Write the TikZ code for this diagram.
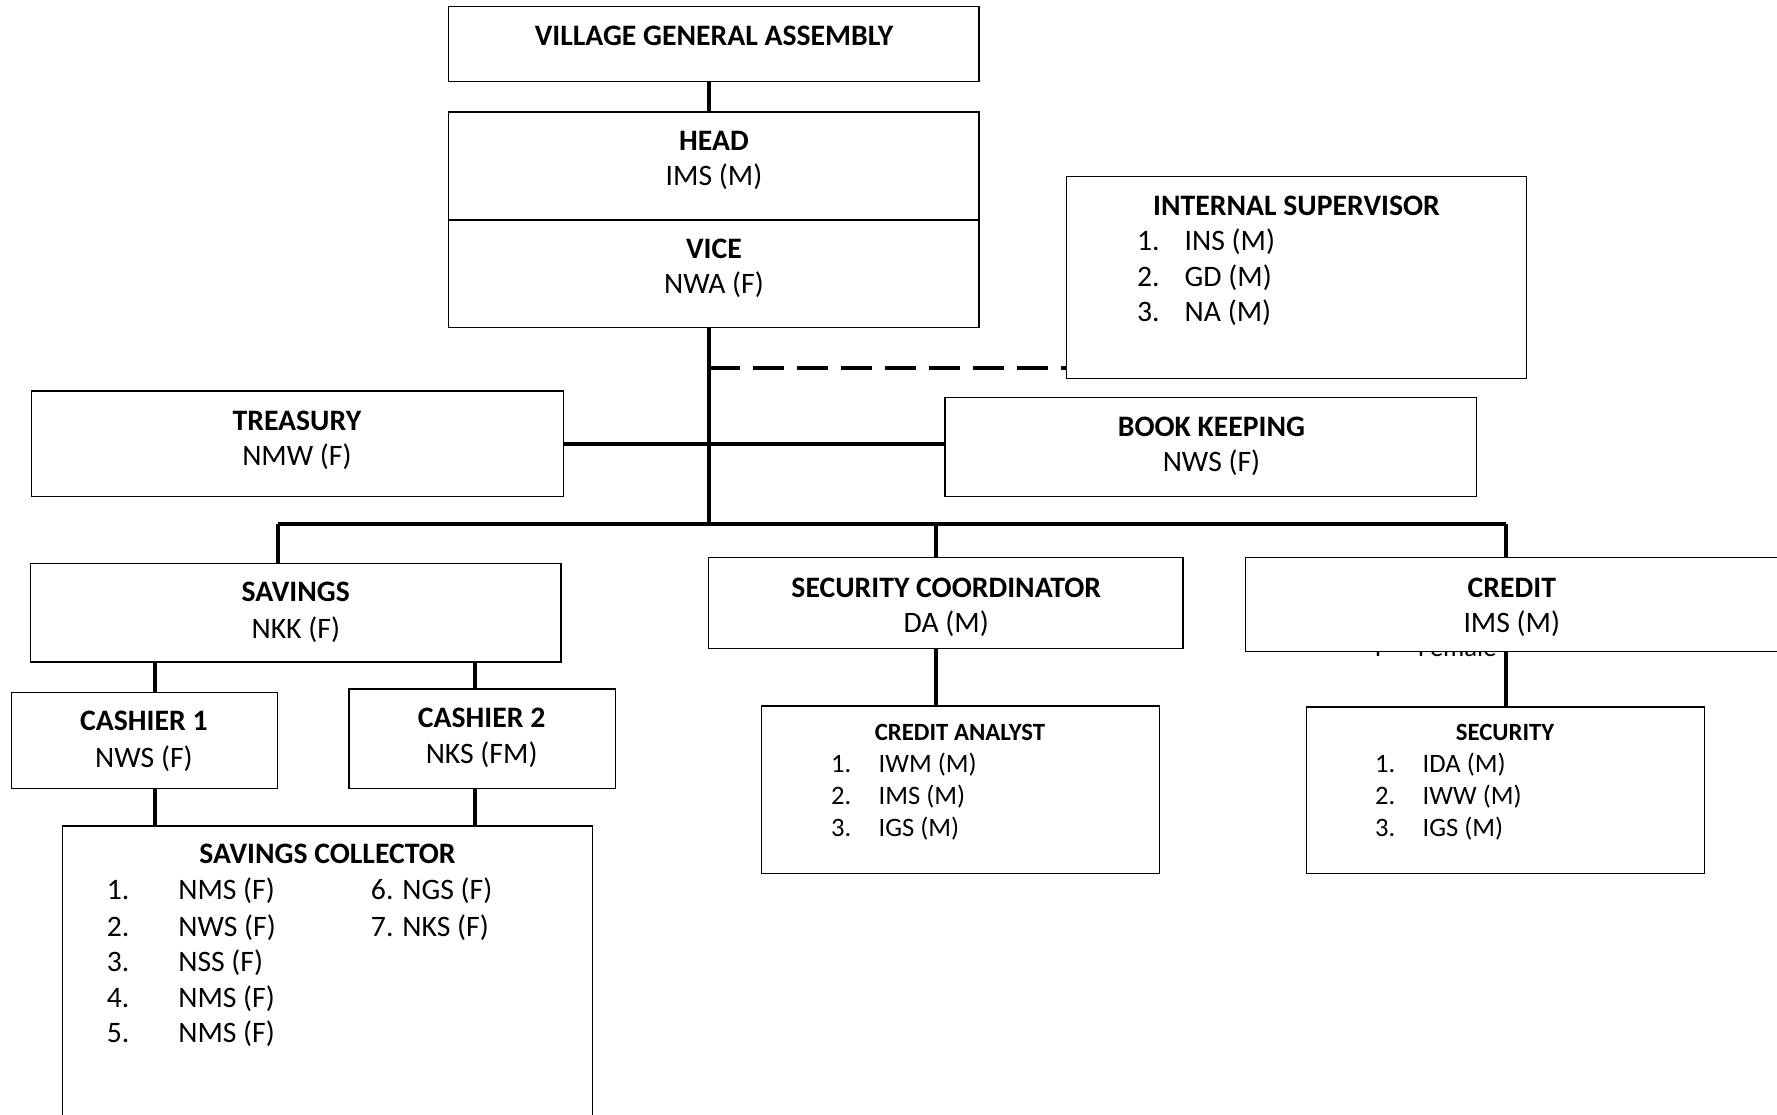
\documentclass[tikz,border=0pt]{standalone}
\usepackage{fontspec}
\setmainfont{Carlito}
\usetikzlibrary{fit}
\begin{document}
\begin{tikzpicture}[x=0.5667pt,y=-0.5667pt,
  box/.style={draw=black, line width=0.7pt, fill=white, inner sep=0pt},
  conn/.style={line width=2pt},
  dconn/.style={line width=2pt, dash pattern=on 15.5pt off 6.5pt},
  ttl/.style={font=\fontsize{14.85}{17}\selectfont\bfseries, anchor=base, inner sep=0pt},
  txt/.style={font=\fontsize{14.85}{17}\selectfont, anchor=base, inner sep=0pt},
  ltxt/.style={font=\fontsize{14.85}{17}\selectfont, anchor=base west, inner sep=0pt},
  sttl/.style={font=\fontsize{12.4}{14}\selectfont\bfseries, anchor=base, inner sep=0pt},
  stxt/.style={font=\fontsize{13.3}{15}\selectfont, anchor=base west, inner sep=0pt}]
\fill[white] (0,0) rectangle (1568,983);
\useasboundingbox (0,0) rectangle (1568,983);

% coordinates for connector columns
\coordinate (tx) at (626,0);
\coordinate (bx1) at (245,0);
\coordinate (bx2) at (826,0);
\coordinate (bx3) at (1329,0);
\coordinate (cx1) at (137,0);
\coordinate (cx2) at (419,0);
\coordinate (cy) at (0,325);
\coordinate (ty) at (0,392);
\coordinate (by) at (0,462);

% hidden text behind credit box
\node[stxt] (hf1) at (1213,579) {F};
\node[stxt] (hf2) at (1251,579) {Female};

% boxes
\node[box, fit={(396,6) (864,72)}] (vga) {};
\node[box, fit={(396,99) (864,194)}] (head) {};
\node[box, fit={(396,194) (864,289)}] (vice) {};
\node[box, fit={(941,156) (1347,334)}] (isup) {};
\node[box, fit={(28,345) (497,438)}] (treas) {};
\node[box, fit={(834,351) (1303,438)}] (book) {};
\node[box, fit={(27,497) (495,584)}] (sav) {};
\node[box, fit={(625,492) (1044,572)}] (secco) {};
\node[box, fit={(1099,492) (1572,575)}] (credit) {};
\node[box, fit={(10,611) (245,696)}] (cash1) {};
\node[box, fit={(308,608) (543,696)}] (cash2) {};
\node[box, fit={(55,729) (523,995)}] (coll) {};
\node[box, fit={(672,623) (1023,771)}] (ca) {};
\node[box, fit={(1153,624) (1504,771)}] (sec) {};

% connectors
\draw[conn] (vga.south -| tx) -- (head.north -| tx);
\draw[conn] (vice.south -| tx) -- (by -| tx);
\draw[dconn] (cy -| tx) -- (cy -| isup.west);
\draw[conn] (ty -| treas.east) -- (ty -| book.west);
\draw[conn] (by -| bx1) -- (by -| bx3);
\draw[conn] (by -| bx1) -- (sav.north -| bx1);
\draw[conn] (by -| bx2) -- (secco.north -| bx2);
\draw[conn] (by -| bx3) -- (credit.north -| bx3);
\draw[conn] (secco.south -| bx2) -- (ca.north -| bx2);
\draw[conn] (credit.south -| bx3) -- (sec.north -| bx3);
\draw[conn] (sav.south -| cx1) -- (cash1.north -| cx1);
\draw[conn] (sav.south -| cx2) -- (cash2.north -| cx2);
\draw[conn] (cash1.south -| cx1) -- (coll.north -| cx1);
\draw[conn] (cash2.south -| cx2) -- (coll.north -| cx2);

% texts
\node[ttl] (t1) at (630,40) {VILLAGE GENERAL ASSEMBLY};
\node[ttl] (t2) at (630,133) {HEAD};
\node[txt] (t3) at (630,164) {IMS (M)};
\node[ttl] (t4) at (630,228) {VICE};
\node[txt] (t5) at (630,259) {NWA (F)};

\node[ttl] (t6) at (1144,190) {INTERNAL SUPERVISOR};
\node[ltxt] (i1n) at (1003,221) {1.};
\node[ltxt] (i1) at (1045,221) {INS (M)};
\node[ltxt] (i2n) at (1003,253) {2.};
\node[ltxt] (i2) at (1045,253) {GD (M)};
\node[ltxt] (i3n) at (1003,284) {3.};
\node[ltxt] (i3) at (1045,284) {NA (M)};

\node[ttl] (t7) at (262,380) {TREASURY};
\node[txt] (t8) at (262,411) {NMW (F)};
\node[ttl] (t9) at (1069,385) {BOOK KEEPING};
\node[txt] (t10) at (1069,416) {NWS (F)};

\node[ttl] (t11) at (261,531) {SAVINGS};
\node[txt] (t12) at (261,563) {NKK (F)};
\node[ttl] (t13) at (835,527) {SECURITY COORDINATOR};
\node[txt] (t14) at (835,558) {DA (M)};
\node[ttl] (t15) at (1334,527) {CREDIT};
\node[txt] (t16) at (1334,558) {IMS (M)};

\node[ttl] (t17) at (127,645) {CASHIER 1};
\node[txt] (t18) at (127,677) {NWS (F)};
\node[ttl] (t19) at (425,642) {CASHIER 2};
\node[txt] (t20) at (425,674) {NKS (FM)};

\node[ttl] (t21) at (289,762) {SAVINGS COLLECTOR};
\node[ltxt] (s1n) at (94,794) {1.};
\node[ltxt] (s1) at (157,794) {NMS (F)};
\node[ltxt] (s2n) at (94,826) {2.};
\node[ltxt] (s2) at (157,826) {NWS (F)};
\node[ltxt] (s3n) at (94,857) {3.};
\node[ltxt] (s3) at (157,857) {NSS (F)};
\node[ltxt] (s4n) at (94,889) {4.};
\node[ltxt] (s4) at (157,889) {NMS (F)};
\node[ltxt] (s5n) at (94,920) {5.};
\node[ltxt] (s5) at (157,920) {NMS (F)};
\node[ltxt] (s6) at (327,794) {6. NGS (F)};
\node[ltxt] (s7) at (327,826) {7. NKS (F)};

\node[sttl] (t22) at (847,653) {CREDIT ANALYST};
\node[stxt] (c1n) at (733,681.5) {1.};
\node[stxt] (c1) at (775,681.5) {IWM (M)};
\node[stxt] (c2n) at (733,709.5) {2.};
\node[stxt] (c2) at (775,709.5) {IMS (M)};
\node[stxt] (c3n) at (733,738.5) {3.};
\node[stxt] (c3) at (775,738.5) {IGS (M)};

\node[sttl] (t23) at (1328,653) {SECURITY};
\node[stxt] (e1n) at (1213,681.5) {1.};
\node[stxt] (e1) at (1255,681.5) {IDA (M)};
\node[stxt] (e2n) at (1213,709.5) {2.};
\node[stxt] (e2) at (1255,709.5) {IWW (M)};
\node[stxt] (e3n) at (1213,738.5) {3.};
\node[stxt] (e3) at (1255,738.5) {IGS (M)};
\end{tikzpicture}
\end{document}
